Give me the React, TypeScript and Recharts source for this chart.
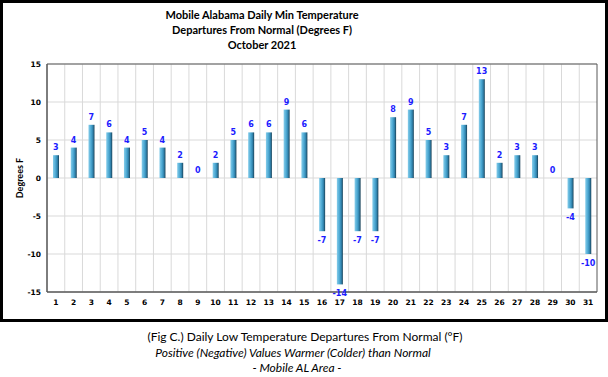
import { ComposedChart, Bar, Line, XAxis, YAxis, CartesianGrid, LabelList, ReferenceArea } from 'recharts';

const days = Array.from({ length: 31 }, (_, i) => String(i + 1));
const departures = [3, 4, 7, 6, 4, 5, 4, 2, 0, 2, 5, 6, 6, 9, 6, -7, -14, -7, -7, 8, 9, 5, 3, 7, 13, 2, 3, 3, 0, -4, -10];
const yTicks = [-15, -10, -5, 0, 5, 10, 15];

const titleLines = ['Mobile Alabama Daily Min Temperature', 'Departures From Normal (Degrees F)', 'October 2021'];

const data = days.map((d, i) => ({ day: d, value: departures[i] }));

const tickFont = { fontFamily: 'DejaVu Sans', fontSize: 7.5, fontWeight: 'bold', fill: '#000' };

// labels hang off the (invisible) line points so zero days get one too
function ValueLabel(props: any) {
  const { x, y, value } = props;
  const ty = value >= 0 ? y - 5 : y + 12;
  return (
    <text x={x} y={ty} textAnchor="middle" fontFamily="DejaVu Sans" fontSize={8} fontWeight="bold" fill="#1c1cff">
      {value}
    </text>
  );
}

export default function App() {
  return (
    <div style={{ position: 'absolute', left: 0, top: 0, width: 608, height: 377, background: '#fff', fontFamily: 'Lato' }}>
      <div
        style={{
          position: 'absolute',
          left: 0,
          top: 0,
          width: 602,
          height: 316,
          border: '3px solid #000',
        }}
      />
      <div style={{ position: 'absolute', left: 62, width: 400, top: 7, textAlign: 'center', fontSize: 11, fontWeight: 'bold', lineHeight: '15px', color: '#000' }}>
        {titleLines.map((t) => (
          <div key={t}>{t}</div>
        ))}
      </div>
      <div style={{ position: 'absolute', left: 0, top: 0 }}>
        <ComposedChart width={608} height={322} data={data} margin={{ top: 64, right: 11, left: 0, bottom: 0 }}>
          <defs>
            <linearGradient id="barGrad" x1="0" y1="0" x2="1" y2="0">
              <stop offset="0%" stopColor="#86cdea" />
              <stop offset="45%" stopColor="#4aa7d2" />
              <stop offset="75%" stopColor="#2f7fa8" />
              <stop offset="100%" stopColor="#173f55" />
            </linearGradient>
          </defs>
          <CartesianGrid
            stroke="#d9d9d9"
            strokeWidth={1}
            verticalCoordinatesGenerator={({ offset }: any) =>
              days.map((_, i) => offset.left + (i * offset.width) / days.length)
            }
          />
          <XAxis
            dataKey="day"
            height={30}
            tick={tickFont}
            tickLine={false}
            tickSize={0}
            tickMargin={8}
            axisLine={{ stroke: '#595959' }}
            interval={0}
          />
          <YAxis
            width={47}
            domain={[-15, 15]}
            ticks={yTicks}
            tick={tickFont}
            tickLine={false}
            tickSize={0}
            tickMargin={6}
            axisLine={{ stroke: '#595959' }}
            label={{
              value: 'Degrees F',
              angle: -90,
              position: 'insideLeft',
              offset: 20,
              style: { fontFamily: 'Lato', fontSize: 9, fontWeight: 'bold', fill: '#000', textAnchor: 'middle' },
            }}
          />
          <ReferenceArea y1={-15} y2={15} fill="none" stroke="#595959" strokeWidth={1} ifOverflow="visible" />
          <Bar dataKey="value" barSize={6} fill="url(#barGrad)" isAnimationActive={false} />
          <Line dataKey="value" stroke="none" dot={false} activeDot={false} isAnimationActive={false}>
            <LabelList dataKey="value" content={ValueLabel} />
          </Line>
        </ComposedChart>
      </div>
      <div style={{ position: 'absolute', left: 105, width: 400, top: 329, textAlign: 'center', fontSize: 12, lineHeight: '15.5px', color: '#000' }}>
        <div>(Fig C.) Daily Low Temperature Departures From Normal (°F)</div>
      </div>
      <div style={{ position: 'absolute', left: 93, width: 400, top: 344.5, textAlign: 'center', fontSize: 12, lineHeight: '15.5px', fontStyle: 'italic', color: '#000' }}>
        <div>Positive (Negative) Values Warmer (Colder) than Normal</div>
      </div>
      <div style={{ position: 'absolute', left: 97, width: 400, top: 360, textAlign: 'center', fontSize: 12, lineHeight: '15.5px', fontStyle: 'italic', color: '#000' }}>
        <div>- Mobile AL Area -</div>
      </div>
    </div>
  );
}
